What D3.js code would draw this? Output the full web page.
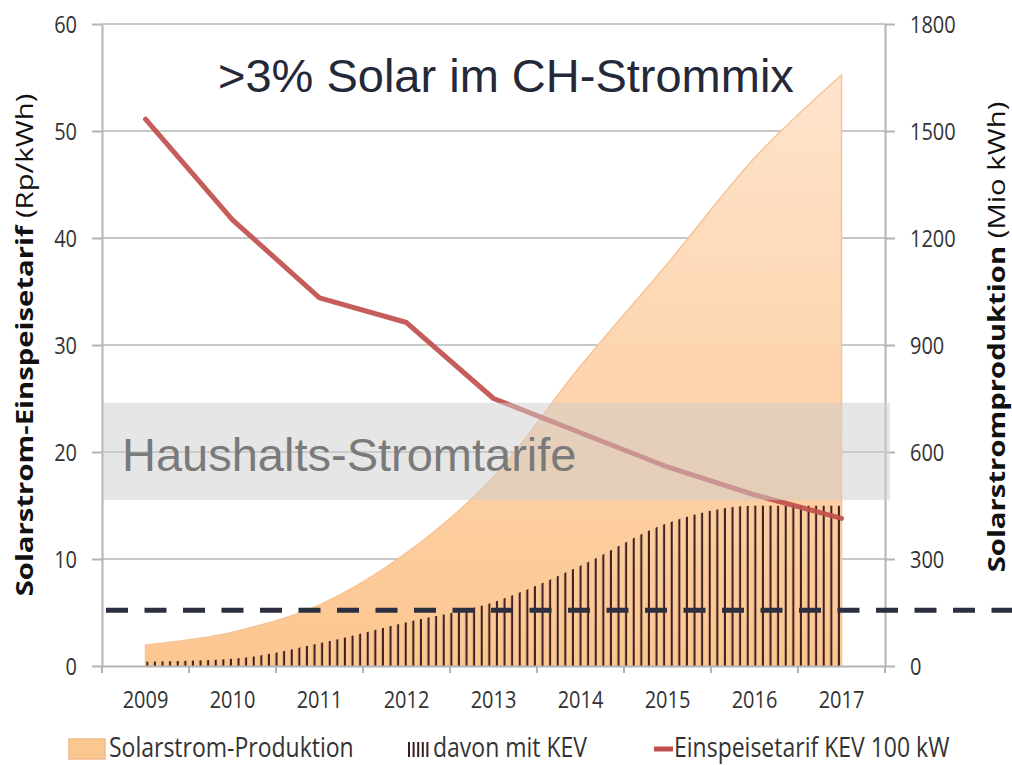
<!DOCTYPE html>
<html>
<head>
<meta charset="utf-8">
<script src="https://cdn.jsdelivr.net/npm/d3@7"></script>
<style>
  body { margin: 0; background: #fff; }
  svg { display: block; }
  .tick text {
    font-family: "Open Sans", sans-serif; font-size: 20px; fill: #333;
    transform-box: fill-box; transform-origin: center; transform: scaleY(1.2);
  }
</style>
</head>
<body>
<div id="vis-container"></div>
<script>
// ---------- data ----------
const years = ['2009', '2010', '2011', '2012', '2013', '2014', '2015', '2016', '2017']
const production = [59, 95, 171, 317, 530, 841, 1128, 1424, 1657]   // Mio kWh (right axis)
const kevShare = [12, 20, 64, 123, 179, 281, 401, 449, 449]         // Mio kWh (right axis)
const tariff = [51.1, 41.7, 34.4, 32.1, 25.0, 21.8, 18.6, 16.0, 13.8] // Rp/kWh (left axis)
const householdBand = [15.5, 24.6]   // Rp/kWh
const threshold = 5.2                // Rp/kWh
const leftTicks = [0, 10, 20, 30, 40, 50, 60]
const rightTicks = [0, 300, 600, 900, 1200, 1500, 1800]

const W = 1012, H = 765
const plot = { left: 102, right: 885, top: 24, bottom: 666 }

const svg = d3.select('#vis-container').append('svg')
  .attr('width', W).attr('height', H)

// ---------- scales ----------
const x = d3.scaleBand().domain(years).range([plot.left, plot.right])
const cx = d => x(d) + x.bandwidth() / 2
const yL = d3.scaleLinear().domain([0, 60]).range([plot.bottom, plot.top])
const yR = d3.scaleLinear().domain([0, 1800]).range([plot.bottom, plot.top])

// ---------- defs ----------
const defs = svg.append('defs')
const grad = defs.append('linearGradient').attr('id', 'peach')
  .attr('gradientUnits', 'userSpaceOnUse')
  .attr('x1', 0).attr('x2', 0).attr('y1', yR(1657)).attr('y2', plot.bottom)
grad.append('stop').attr('offset', 0).attr('stop-color', '#fee4cd')
grad.append('stop').attr('offset', 1).attr('stop-color', '#fcc690')

const hatch = defs.append('pattern').attr('id', 'hatch')
  .attr('patternUnits', 'userSpaceOnUse')
  .attr('x', cx(years[0])).attr('y', 0)
  .attr('width', 7.6).attr('height', 10)
hatch.append('rect').attr('x', 0.8).attr('y', 0).attr('width', 2).attr('height', 10)
  .attr('fill', '#3b1d1f')

// ---------- grid ----------
svg.append('g').selectAll('line')
  .data(leftTicks.slice(1))
  .join('line')
  .attr('x1', plot.left).attr('x2', plot.right)
  .attr('y1', d => yL(d)).attr('y2', d => yL(d))
  .attr('stroke', '#c8c8c8').attr('stroke-width', 2)

// ---------- areas ----------
const areaProd = d3.area()
  .x((d, i) => cx(years[i]))
  .y0(yR(0))
  .y1(d => yR(d))
  .curve(d3.curveMonotoneX)

svg.append('path').datum(production)
  .attr('d', areaProd)
  .attr('fill', 'url(#peach)')
  .attr('stroke', '#f7c494').attr('stroke-width', 1.5)

svg.append('path').datum(kevShare)
  .attr('d', areaProd)
  .attr('fill', 'url(#hatch)')

// ---------- axes ----------
const axisStyle = g => {
  g.select('.domain').attr('stroke', '#b4b4b4').attr('stroke-width', 2)
  g.selectAll('.tick line').attr('stroke', '#b4b4b4').attr('stroke-width', 2)
}

svg.append('g')
  .attr('transform', `translate(${plot.left},0)`)
  .call(d3.axisLeft(yL).tickValues(leftTicks).tickFormat(d3.format('d'))
    .tickSize(10).tickPadding(15).tickSizeOuter(0))
  .call(axisStyle)

svg.append('g')
  .attr('transform', `translate(${plot.right},0)`)
  .call(d3.axisRight(yR).tickValues(rightTicks).tickFormat(d3.format('d'))
    .tickSize(10).tickPadding(15).tickSizeOuter(0))
  .call(axisStyle)

const xAxis = svg.append('g')
  .attr('transform', `translate(0,${plot.bottom})`)
  .call(d3.axisBottom(x).tickSize(0).tickPadding(26))
xAxis.select('.domain').attr('stroke', '#b4b4b4').attr('stroke-width', 2)

// category boundary ticks
svg.append('g').selectAll('line')
  .data(years.map(d => x(d)).concat([plot.right]))
  .join('line')
  .attr('x1', d => d).attr('x2', d => d)
  .attr('y1', plot.bottom).attr('y2', plot.bottom + 7)
  .attr('stroke', '#b4b4b4').attr('stroke-width', 2)

// ---------- tariff line ----------
const line = d3.line()
  .x((d, i) => cx(years[i]))
  .y(d => yL(d))

svg.append('path').datum(tariff)
  .attr('d', line)
  .attr('fill', 'none')
  .attr('stroke', '#c0504d').attr('stroke-width', 5)
  .attr('stroke-linejoin', 'round').attr('stroke-linecap', 'round')
  .attr('opacity', 0.92)

// ---------- household band ----------
svg.append('rect')
  .attr('x', plot.left + 1).attr('width', 890 - plot.left - 1)
  .attr('y', yL(householdBand[1]))
  .attr('height', yL(householdBand[0]) - yL(householdBand[1]))
  .attr('fill', '#cdcdcd').attr('opacity', 0.5)

svg.append('text')
  .attr('x', 122).attr('y', 471)
  .attr('font-family', '"Liberation Sans", Arial, sans-serif')
  .attr('font-size', 47).attr('fill', '#7a7a7a')
  .text('Haushalts-Stromtarife')

// ---------- threshold ----------
svg.append('line')
  .attr('x1', 106).attr('x2', W)
  .attr('y1', yL(threshold)).attr('y2', yL(threshold))
  .attr('stroke', '#2b2f3f').attr('stroke-width', 5)
  .attr('stroke-dasharray', '22,16.5')

// ---------- title ----------
svg.append('text')
  .attr('x', 218).attr('y', 92)
  .attr('font-family', '"Liberation Sans", Arial, sans-serif')
  .attr('font-size', 47).attr('fill', '#252838')
  .text('>3% Solar im CH-Strommix')

// ---------- axis titles ----------
const axisTitle = (px, py, bold, normal) => {
  const t = svg.append('text')
    .attr('transform', `translate(${px},${py}) rotate(-90) scale(1.22,1)`)
    .attr('text-anchor', 'middle').attr('dy', '0.35em')
    .attr('font-family', '"Open Sans", sans-serif')
    .attr('font-size', 24).attr('fill', '#111')
  t.append('tspan').attr('font-weight', 'bold').text(bold)
  t.append('tspan').text(normal)
}
axisTitle(25, 345, 'Solarstrom-Einspeisetarif', ' (Rp/kWh)')
axisTitle(997, 337, 'Solarstromproduktion', ' (Mio kWh)')

// ---------- legend ----------
const legend = svg.append('g')
const legendText = (px, label) => legend.append('text')
  .attr('transform', `translate(${px},757) scale(1,1.2)`)
  .attr('font-family', '"Open Sans", sans-serif')
  .attr('font-size', 23).attr('fill', '#333')
  .text(label)

legend.append('rect')
  .attr('x', 69).attr('y', 739).attr('width', 36).attr('height', 20)
  .attr('fill', 'url(#peach)').attr('stroke', '#f2bb8a').attr('stroke-width', 1.5)
legendText(109, 'Solarstrom-Produktion')

legend.selectAll('line.h')
  .data(d3.range(5))
  .join('line')
  .attr('x1', i => 409 + i * 4.6).attr('x2', i => 409 + i * 4.6)
  .attr('y1', 742).attr('y2', 757)
  .attr('stroke', '#3b1d1f').attr('stroke-width', 2)
legendText(433, 'davon mit KEV')

legend.append('line')
  .attr('x1', 654).attr('x2', 673).attr('y1', 749).attr('y2', 749)
  .attr('stroke', '#c0504d').attr('stroke-width', 5)
legendText(674, 'Einspeisetarif KEV 100 kW')
</script>
</body>
</html>
